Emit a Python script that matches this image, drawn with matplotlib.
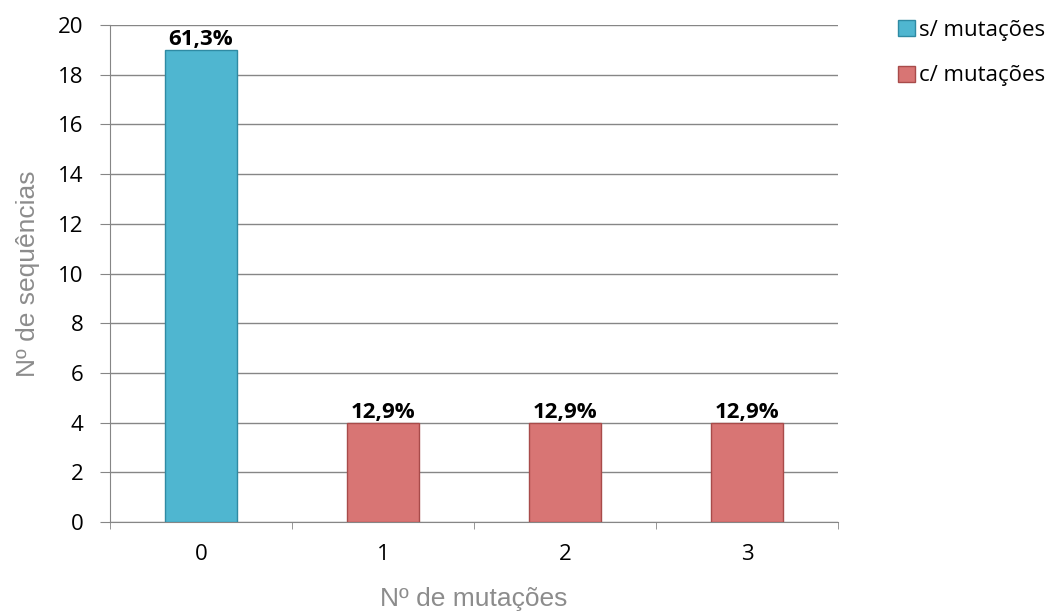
import matplotlib.pyplot as plt
from matplotlib.patches import Patch

# Dados do gráfico
categorias = ["0", "1", "2", "3"]
sequencias = [19, 4, 4, 4]
percentagens = ["61,3%", "12,9%", "12,9%", "12,9%"]
grupo = ["s/ mutações", "c/ mutações", "c/ mutações", "c/ mutações"]
yticks = list(range(0, 21, 2))

CORES = {"s/ mutações": "#4FB6D0", "c/ mutações": "#D87574"}
BORDAS = {"s/ mutações": "#2F8AA3", "c/ mutações": "#A84B4A"}

fig = plt.figure(figsize=(10.57, 6.13), dpi=100)
ax = fig.add_axes([110 / 1057, 1 - 522 / 613, 728 / 1057, 497 / 613])

x = list(range(len(categorias)))
ax.bar(x, sequencias, width=0.4,
       color=[CORES[g] for g in grupo],
       edgecolor=[BORDAS[g] for g in grupo], linewidth=1.0, zorder=3)

for xi, v, p in zip(x, sequencias, percentagens):
    ax.text(xi, v, p, ha="center", va="bottom",
            fontsize=16, fontweight="bold", family="Open Sans", zorder=4)

ax.set_xlim(-0.5, 3.5)
ax.set_ylim(0, 20)
ax.set_yticks(yticks)
ax.set_xticks(x)
ax.set_xticklabels(categorias)
ax.set_xticks([-0.5, 0.5, 1.5, 2.5, 3.5], minor=True)
ax.tick_params(axis="x", which="major", length=0, pad=16)
ax.tick_params(axis="x", which="minor", length=5, color="#868686")
ax.tick_params(axis="y", length=7, color="#868686", pad=12)
for lbl in ax.get_xticklabels() + ax.get_yticklabels():
    lbl.set_fontsize(16)
    lbl.set_family("Open Sans")

ax.grid(axis="y", color="#868686", linewidth=1, zorder=0)
for s in ["top", "right"]:
    ax.spines[s].set_visible(False)
for s in ["left", "bottom"]:
    ax.spines[s].set_color("#868686")

ax.set_xlabel("Nº de mutações", fontsize=19, color="#8C8C8C",
              family="Liberation Sans", labelpad=16)
ax.set_ylabel("Nº de sequências", fontsize=19, color="#8C8C8C",
              family="Liberation Sans", labelpad=13)

handles = [Patch(facecolor=CORES[g], edgecolor=BORDAS[g], label=g)
           for g in ["s/ mutações", "c/ mutações"]]
fig.legend(handles=handles, loc="upper left", bbox_to_anchor=(878 / 1057, 1 - 0 / 613),
           frameon=False, prop={"family": "Open Sans", "size": 16},
           handlelength=0.75, handleheight=0.75, handletextpad=0.2, labelspacing=1.1)

fig.savefig("out.png", dpi=100)
